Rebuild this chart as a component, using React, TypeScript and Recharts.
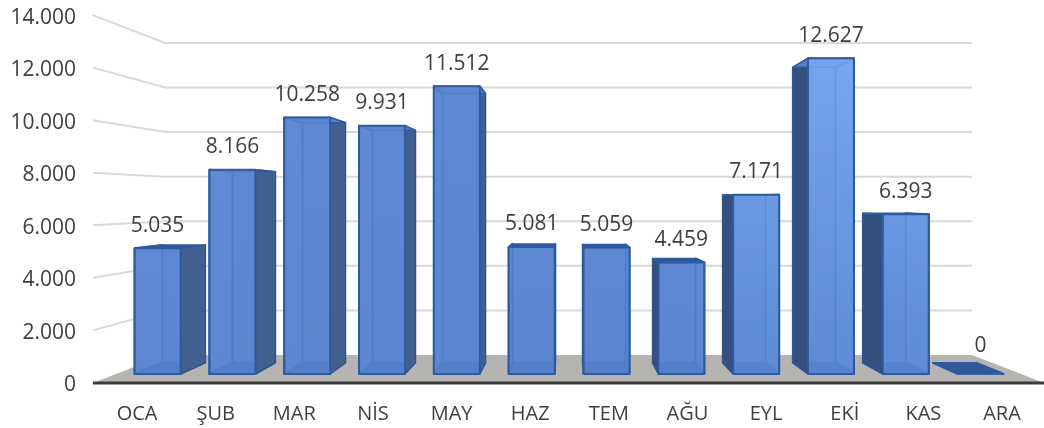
import { Bar, CartesianGrid, ComposedChart, LabelList, XAxis, YAxis } from 'recharts'

const months = ['OCA', 'ŞUB', 'MAR', 'NİS', 'MAY', 'HAZ', 'TEM', 'AĞU', 'EYL', 'EKİ', 'KAS', 'ARA']
const values = [5035, 8166, 10258, 9931, 11512, 5081, 5059, 4459, 7171, 12627, 6393, 0]
const yTicks = [0, 2000, 4000, 6000, 8000, 10000, 12000, 14000]

const chartData = months.map((name, i) => ({ name, value: values[i] }))

// perspective of the 3D box: everything is scaled around the vanishing point
const VX = 568.5
const VY = 198.8
const DEPTH_AXIS = 1.051
const DEPTH_BAR_BACK = 0.936
const DEPTH_WALL = 0.8916
const PLOT_BOTTOM = 374

const TEXT = '#404040'
const FONT = '"Open Sans", sans-serif'

const project = (x: number, y: number, depth: number) => [VX + (x - VX) * depth, VY + (y - VY) * depth]
const pts = (list: number[][]) => list.map((p) => p.join(',')).join(' ')
const formatNumber = (v: number) => String(v).replace(/\B(?=(\d{3})+$)/g, '.')

function GridLine(props: any) {
  const { x1, x2, y1 } = props
  const isFloor = Math.abs(y1 - PLOT_BOTTOM) < 1
  const wallLine = [project(x1, y1, DEPTH_AXIS), project(x1, y1, DEPTH_WALL), project(x2, y1, DEPTH_WALL)]
  if (isFloor) {
    const a = project(x1, y1, DEPTH_AXIS)
    const b = project(x2, y1, DEPTH_AXIS)
    return (
      <g>
        <polygon points={pts([a, project(x1, y1, DEPTH_WALL), project(x2, y1, DEPTH_WALL), b])} fill="#b5b4b0" />
        <line x1={a[0]} y1={a[1]} x2={b[0]} y2={b[1]} stroke="#3b3b3b" strokeWidth={3} />
      </g>
    )
  }
  return <polyline points={pts(wallLine)} fill="none" stroke="#d9d9d9" strokeWidth={2} />
}

function Box3D(props: any) {
  const { x, y, width, height } = props
  const left = x
  const right = x + width
  const top = y
  const bottom = y + height
  const fTL = [left, top]
  const fTR = [right, top]
  const fBL = [left, bottom]
  const fBR = [right, bottom]
  const bTL = project(left, top, DEPTH_BAR_BACK)
  const bTR = project(right, top, DEPTH_BAR_BACK)
  const bBL = project(left, bottom, DEPTH_BAR_BACK)
  const bBR = project(right, bottom, DEPTH_BAR_BACK)
  const rightSideOut = x + width / 2 < VX
  const edge = '#2f5a9f'
  const side = rightSideOut ? [fTR, bTR, bBR, fBR] : [fTL, bTL, bBL, fBL]
  const inner = rightSideOut ? [fTL, bTL, bBL, fBL] : [fTR, bTR, bBR, fBR]
  const lookingAtTop = top > VY
  const face = x > 700 ? 'url(#frontFaceLight)' : 'url(#frontFace)'
  return (
    <g strokeLinejoin="round">
      <polygon points={pts([bTL, bTR, bBR, bBL])} fill="#5a84cc" />
      <polygon points={pts(inner)} fill="#5f8ad2" stroke="#2a5aa8" strokeWidth={2} />
      <polygon points={pts([fBL, fBR, bBR, bBL])} fill="#3768b8" stroke={edge} strokeWidth={1} />
      <polygon points={pts(side)} fill={rightSideOut ? '#41608f' : '#33507f'} stroke="#31568f" strokeWidth={1.5} />
      <polygon
        points={pts([fTL, fTR, bTR, bTL])}
        fill={lookingAtTop ? '#31579b' : '#5582cc'}
        stroke={edge}
        strokeWidth={1.5}
      />
      {height > 0 && <polygon points={pts([fTL, fTR, fBR, fBL])} fill={face} fillOpacity={0.76} stroke={edge} strokeWidth={2} />}
    </g>
  )
}

function YTick(props: any) {
  const { y, payload } = props
  const [, py] = project(0, y, DEPTH_AXIS)
  return (
    <text x={76} y={py + 8.5} textAnchor="end" fontSize={21} fontFamily={FONT} fill={TEXT}>
      {formatNumber(payload.value)}
    </text>
  )
}

function XTick(props: any) {
  const { x, payload } = props
  const [px] = project(x, 0, DEPTH_AXIS)
  return (
    <text x={px} y={420} textAnchor="middle" fontSize={20} fontFamily={FONT} fill={TEXT}>
      {payload.value}
    </text>
  )
}

function ValueLabel(props: any) {
  const { x, y, width, value } = props
  return (
    <text x={x + width / 2} y={y - (value === 0 ? 22 : 16.5)} textAnchor="middle" fontSize={21} fontFamily={FONT} fill={TEXT}>
      {formatNumber(value)}
    </text>
  )
}

export default function App() {
  return (
    <div style={{ position: 'absolute', left: 0, top: 0, width: 1044, height: 428, background: '#fff', filter: 'blur(0.35px)' }}>
      <ComposedChart width={1044} height={428} data={chartData} margin={{ top: 24, right: 23, bottom: 0, left: 0 }}>
        <defs>
          <linearGradient id="frontFace" x1="0" y1="0" x2="0" y2="1">
            <stop offset="0%" stopColor="#5f8ad4" />
            <stop offset="100%" stopColor="#5c87d0" />
          </linearGradient>
          <linearGradient id="frontFaceLight" gradientUnits="userSpaceOnUse" x1="0" y1="59" x2="0" y2="374">
            <stop offset="0%" stopColor="#80aef9" />
            <stop offset="100%" stopColor="#5e8bd6" />
          </linearGradient>
        </defs>
        <CartesianGrid vertical={false} horizontal={GridLine} />
        <XAxis
          dataKey="name"
          height={54}
          axisLine={false}
          tickLine={false}
          interval={0}
          padding={{ left: 4.6, right: 2.6 }}
          tick={XTick}
        />
        <YAxis width={116} domain={[0, 14000]} ticks={yTicks} axisLine={false} tickLine={false} tick={YTick} />
        <Bar dataKey="value" barSize={46} shape={Box3D} isAnimationActive={false}>
          <LabelList dataKey="value" content={ValueLabel} />
        </Bar>
      </ComposedChart>
    </div>
  )
}
